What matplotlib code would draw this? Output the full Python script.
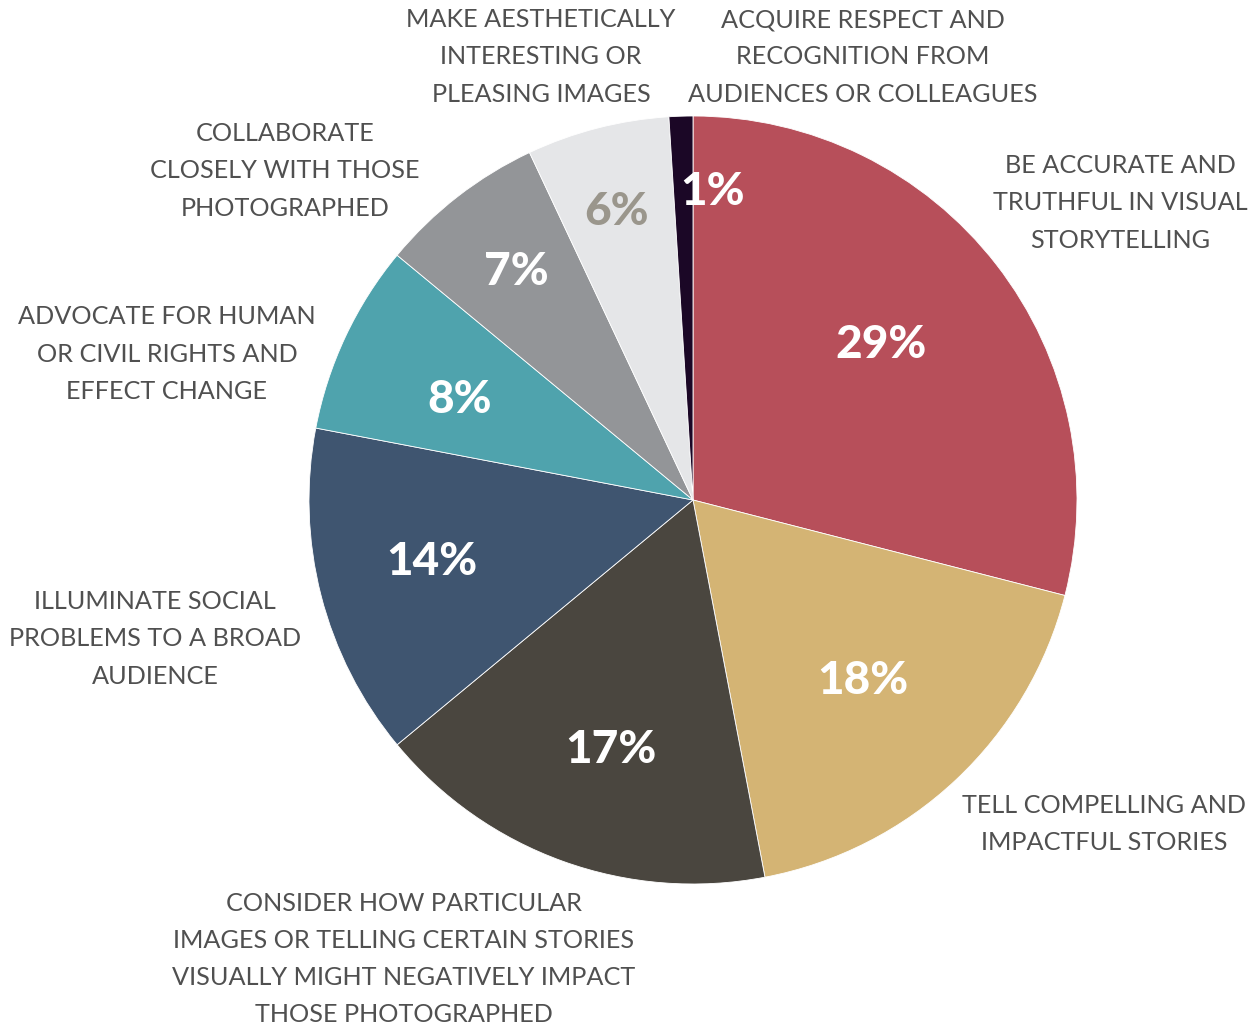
import numpy as np
import matplotlib.pyplot as plt

# share of respondents per priority, clockwise from the top
labels = [
    "BE ACCURATE AND\nTRUTHFUL IN VISUAL\nSTORYTELLING",
    "TELL COMPELLING AND\nIMPACTFUL STORIES",
    "CONSIDER HOW PARTICULAR\nIMAGES OR TELLING CERTAIN STORIES\nVISUALLY MIGHT NEGATIVELY IMPACT\nTHOSE PHOTOGRAPHED",
    "ILLUMINATE SOCIAL\nPROBLEMS TO A BROAD\nAUDIENCE",
    "ADVOCATE FOR HUMAN\nOR CIVIL RIGHTS AND\nEFFECT CHANGE",
    "COLLABORATE\nCLOSELY WITH THOSE\nPHOTOGRAPHED",
    "MAKE AESTHETICALLY\nINTERESTING OR\nPLEASING IMAGES",
    "ACQUIRE RESPECT AND\nRECOGNITION FROM\nAUDIENCES OR COLLEAGUES",
]
values = [29, 18, 17, 14, 8, 7, 6, 1]
colors = ["#b74f5a", "#d4b474", "#4a463f", "#3f5570", "#4fa3ad", "#939598", "#e5e6e8", "#1b0726"]
pct_colors = ["white", "white", "white", "white", "white", "white", "#9a968c", "white"]

W, H = 1255, 1030
fig = plt.figure(figsize=(W / 100, H / 100), dpi=100)
ax = fig.add_axes([0, 0, 1, 1])

cx, cy, R = 693, H - 500, 384
wedges, _ = ax.pie(values, colors=colors, startangle=90, counterclock=False,
                   center=(cx, cy), radius=R, frame=True,
                   wedgeprops=dict(edgecolor="white", linewidth=0.6))
ax.set_xlim(0, W)
ax.set_ylim(0, H)
ax.set_aspect("equal")
ax.axis("off")

# radial placement of the percentage labels (fraction of radius, angle shift)
pct_pos = [(0.635, 1.8), (0.645, 0), (0.685, 1.5), (0.70, -1), (0.66, 2), (0.75, 0), (0.775, 0.5), (0.805, -5.5)]
for w, v, c, (f, da) in zip(wedges, values, pct_colors, pct_pos):
    ang = np.deg2rad((w.theta1 + w.theta2) / 2 + da)
    ax.text(cx + f * R * np.cos(ang), cy + f * R * np.sin(ang), f"{v}%",
            ha="center", va="center", color=c, fontsize=33,
            fontfamily="Lato", fontweight="black")

# category labels around the pie
label_xy = [(1120, 203), (1104, 824), (404, 959), (155, 639),
            (167, 354), (285, 171), (541, 57), (863, 57)]
for t, (x, y) in zip(labels, label_xy):
    ax.text(x, H - y, t, ha="center", va="center", multialignment="center",
            color="#505050", fontsize=18.2, fontfamily="Lato",
            fontweight="normal", linespacing=1.74)

fig.savefig("out.png", dpi=100, facecolor="white")
